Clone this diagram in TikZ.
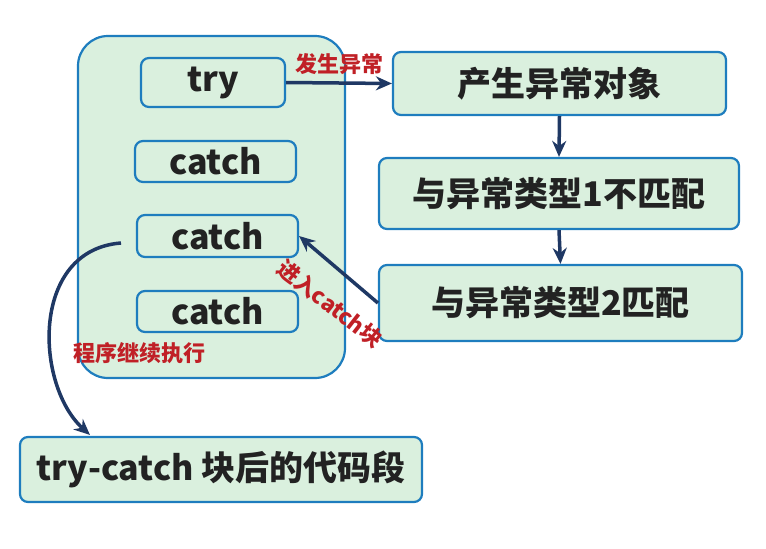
\documentclass[tikz,border=0pt]{standalone}
\usepackage{fontspec}
\setmainfont{Noto Sans CJK SC}
\usepackage{tikz}
\usetikzlibrary{arrows.meta,positioning}

\definecolor{boxfill}{RGB}{218,240,222}
\definecolor{boxline}{RGB}{30,125,190}
\definecolor{arrowcol}{RGB}{31,56,100}
\definecolor{labelred}{RGB}{192,32,38}
\definecolor{textcol}{RGB}{34,34,34}

\begin{document}
\begin{tikzpicture}[x=1pt,y=-1pt,
  box/.style={draw=boxline,fill=boxfill,line width=2.2pt,rounded corners=8pt,
    inner sep=0pt,text=textcol,font=\fontsize{34}{40}\selectfont\bfseries},
  flow/.style={-{Stealth[length=16pt,width=14pt]},line width=3.5pt,draw=arrowcol},
  note/.style={text=labelred,inner sep=0pt,font=\fontsize{22}{26}\selectfont\bfseries}]
  \useasboundingbox (0,0) rectangle (766,549);

  % try-catch block
  \node[box,rounded corners=30pt,minimum width=267,minimum height=342] (block) at (211.5,207) {};
  \node[box,minimum width=144,minimum height=49] (try) at (213,82.5) {try};
  \node[box,minimum width=161,minimum height=41] (catchA) at (215.5,161.5) {catch};
  \node[box,minimum width=161,minimum height=42] (catchB) at (217.5,236) {catch};
  \node[box,minimum width=161,minimum height=41] (catchC) at (217.5,311.5) {catch};

  % exception handling
  \node[box,minimum width=333,minimum height=63] (throw) at (559.5,83.5) {产生异常对象};
  \node[box,minimum width=360,minimum height=71] (nomatch) at (559,193.5) {与异常类型1不匹配};
  \node[box,minimum width=363,minimum height=76] (match) at (560.5,303) {与异常类型2匹配};
  \node[box,minimum width=402,minimum height=65] (after) at (221,469.5) {try-catch 块后的代码段};

  \draw[flow] (try.east) -- node[note,above=7pt,pos=0.5] {发生异常} (throw.west);
  \draw[flow] (throw.south) -- (nomatch.north);
  \draw[flow] (nomatch.south) -- (match.north);
  \draw[flow] (match.west) -- (catchB.east);
  \node[note,rotate=-38] (enter) at (330,304) {进入catch块};

  % continue
  \coordinate (goon) at (121,243);
  \coordinate (land) at (90,435);
  \draw[flow] (goon) .. controls (30,250) and (35,385) .. (land);
  \node[note] (resume) at (139,353) {程序继续执行};
\end{tikzpicture}
\end{document}
